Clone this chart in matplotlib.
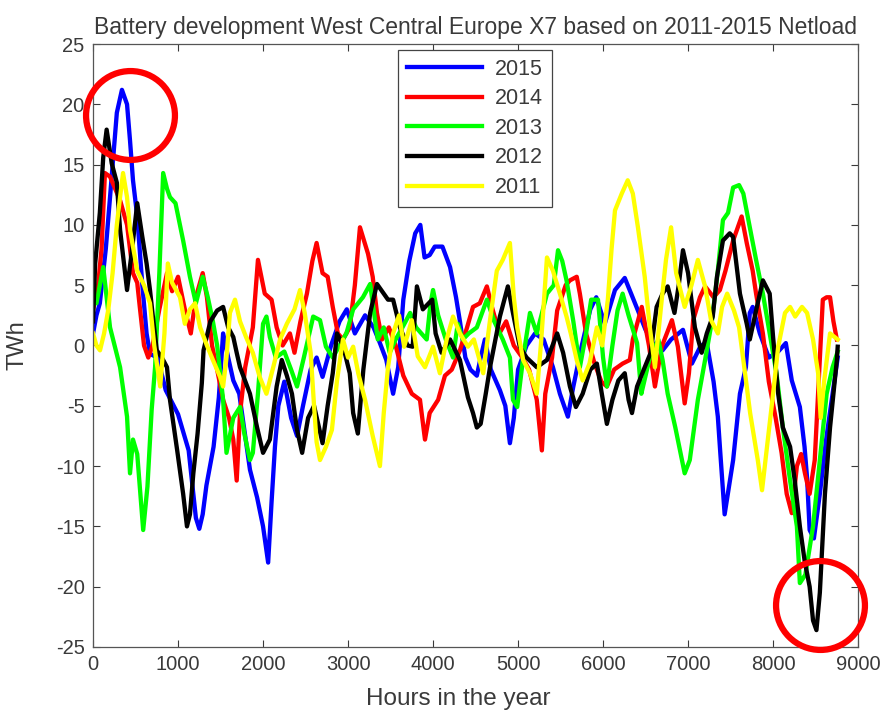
import matplotlib
matplotlib.use('Agg')
import matplotlib.pyplot as plt

plt.rcParams['font.family'] = ['Liberation Sans', 'DejaVu Sans']
plt.rcParams['axes.unicode_minus'] = False

# Battery state per year (hour of year, TWh)
hours_2015 = [0, 40, 80, 150, 200, 280, 340, 400, 435, 470, 520, 580, 630, 670, 760, 855, 1000,
              1125, 1210, 1250, 1290, 1334, 1418, 1480, 1530, 1590, 1650, 1720, 1780, 1846, 1930,
              2000, 2060, 2100, 2140, 2180, 2250, 2330, 2400, 2470, 2560, 2630, 2700, 2800, 2900,
              2985, 3080, 3200, 3300, 3375, 3450, 3530, 3590, 3650, 3720, 3790, 3850, 3900, 3960,
              4020, 4110, 4200, 4270, 4316, 4380, 4440, 4515, 4560, 4610, 4680, 4786, 4850, 4904,
              4950, 5000, 5100, 5200, 5300, 5410, 5492, 5586, 5650, 5750, 5850, 5920, 6020, 6140,
              6255, 6330, 6410, 6500, 6600, 6700, 6800, 6940, 7045, 7150, 7220, 7300, 7350, 7380,
              7430, 7530, 7610, 7680, 7726, 7760, 7844, 7950, 8060, 8150, 8220, 8315, 8370, 8400,
              8430, 8480, 8550, 8620, 8700, 8760]
twh_2015 = [1, 2.5, 3.5, 8, 12.3, 19.3, 21.2, 20, 17, 13.7, 10.7, 5, 1, -0.7, -1, -3.7, -5.7,
            -8.7, -14.3, -15.2, -14, -11.6, -8.4, -4.3, 1, -1, -2.9, -4, -7, -10.3, -12.6,
            -15, -18, -13, -8.4, -5, -3, -6, -7.5, -5, -2, -1, -2.6, 0, 2,
            3, 1, 2.5, 1.5, 0.2, -1.2, -4, -1.8, 3.8, 7, 9.3, 10, 7.3, 7.5,
            8.2, 8.2, 6.5, 4, 2, -1, -2, -2.5, -1, 0.5, -2, -3.7, -5, -8.1,
            -6, -2, 0, 1, 0.5, -1.8, -4, -5.9, -3.4, 0, 3, 4, 1.8, 4.6,
            5.6, 4.3, 2.9, 1.3, 0, -0.4, 0.5, 1.3, -1.5, 0, 0.2, -3, -5.9, -9,
            -14, -9.5, -4, -1.8, 2.7, 3.2, 1, -1, -0.5, 0.2, -2.9, -5.1, -8.4, -11,
            -15.3, -16, -12.3, -8, -4, -1]

hours_2014 = [0, 60, 100, 140, 200, 260, 320, 400, 470, 520, 550, 600, 650, 700, 780, 870, 930,
              1000, 1080, 1150, 1210, 1290, 1340, 1400, 1460, 1530, 1600, 1650, 1690, 1729, 1790,
              1880, 1940, 2020, 2100, 2160, 2230, 2316, 2370, 2440, 2516, 2580, 2630, 2700, 2760,
              2820, 2880, 2940, 3020, 3080, 3140, 3235, 3290, 3340, 3400, 3480, 3560, 3650, 3750,
              3846, 3905, 3960, 4060, 4140, 4220, 4316, 4400, 4470, 4550, 4633, 4700, 4780, 4860,
              4950, 5050, 5130, 5220, 5280, 5320, 5400, 5460, 5560, 5610, 5690, 5727, 5800, 5900,
              5980, 6045, 6130, 6230, 6315, 6350, 6455, 6540, 6610, 6690, 6810, 6880, 6960, 7010,
              7060, 7140, 7200, 7300, 7374, 7440, 7530, 7630, 7690, 7760, 7800, 7880, 7950, 8030,
              8100, 8160, 8220, 8280, 8330, 8375, 8430, 8490, 8550, 8585, 8630, 8670, 8710, 8750]
twh_2014 = [3, 5, 8, 14.3, 14, 13, 12, 10, 6, 5.2, 3.2, 0, -1, 0, 3, 6, 4.5,
            5.7, 3, 1, 4, 6, 4, 0, -2, -4.5, -6, -7.8, -11.2, -5.6, -1.8,
            1.5, 7.1, 4.3, 3.8, 1.5, 0, 1, -0.6, 2, 4.3, 7, 8.5, 6, 5.7,
            3.2, 1, 0.5, 1.5, 5, 9.8, 7.6, 5.7, 2.7, 0.5, 1.5, 0, -2.5, -4,
            -4.5, -7.8, -5.6, -4.5, -2.5, -2, -0.4, 1.5, 3.2, 3.5, 4.9, 3, 1, 2,
            0, -1, -2, -4.5, -8.7, -4, -1, 2.9, 5, 5.4, 5.7, 4.3, 1, -1.5,
            -3, -3.4, -2, -1.5, -1.2, 0.5, 3.2, 0, -3.4, -0.1, 2.1, -0.1, -4.8, -2.3,
            2.1, 4, 4.9, 4, 4.6, 6.2, 8.7, 10.7, 8.5, 6.2, 4.3, 1, -3, -6,
            -8.9, -12.3, -13.9, -10, -9, -10.6, -12.3, -9.5, -1.2, 3.8, 4, 4, 2, 0.5]

hours_2013 = [0, 40, 120, 200, 318, 400, 435, 470, 520, 590, 640, 690, 730, 780, 825, 870, 905,
              970, 1060, 1140, 1210, 1290, 1350, 1410, 1460, 1530, 1570, 1650, 1729, 1780, 1846,
              1880, 1940, 2000, 2040, 2080, 2150, 2250, 2330, 2400, 2480, 2590, 2670, 2740, 2820,
              2900, 2980, 3060, 3175, 3260, 3300, 3350, 3420, 3490, 3560, 3640, 3730, 3800, 3925,
              3970, 4000, 4060, 4150, 4235, 4290, 4350, 4420, 4515, 4633, 4720, 4820, 4904, 4940,
              4990, 5060, 5140, 5220, 5340, 5420, 5470, 5520, 5570, 5650, 5727, 5800, 5860, 5940,
              6000, 6045, 6110, 6170, 6230, 6300, 6400, 6450, 6470, 6550, 6650, 6700, 6760, 6850,
              6960, 7020, 7115, 7200, 7280, 7350, 7410, 7470, 7530, 7600, 7650, 7726, 7800, 7880,
              7960, 8040, 8115, 8200, 8280, 8315, 8380, 8470, 8550, 8630, 8700, 8760]
twh_2013 = [3.5, 3.5, 6.5, 1.5, -1.8, -5.9, -10.6, -7.8, -9, -15.3, -11.7, -5.3, -1.8, 6, 14.3, 13, 12.3,
            11.8, 8.7, 5.7, 3.5, 5.7, 4, 2, 0, -4.5, -8.9, -6, -5.1, -7.3, -9.5,
            -8.9, -4, 1.8, 2.4, 0.7, -1, -0.5, -2, -3.4, -1, 2.4, 2.1, -0.1, -1,
            0, 1, 3, 4, 5.1, 3, 0.5, 1.5, -0.6, 0.5, 1.5, 2.7, 1.5, 0.5,
            3.5, 4.6, 2.5, 0.5, -1, 1.8, 0.5, 1, 1.5, 3.8, 2, 0.5, -1, -4.5,
            -5.1, -1, 2.7, 1, 4.3, 5, 7.9, 7, 5.4, 2, -1.8, 1, 3.8, 3.8,
            -1, -3.4, 0, 2.9, 4.3, 2.5, 0.2, -4, -3.4, -1, 0.5, -1.2, -4, -6.8,
            -10.6, -9.5, -4.5, -1.2, 2, 6.2, 10.4, 11, 13.1, 13.3, 12.6, 9.8, 7.1, 4.3,
            1, -2.3, -6.8, -11.2, -15, -19.7, -19, -15, -9.5, -4, -1.8, -0.5]

hours_2012 = [0, 25, 80, 120, 160, 220, 280, 318, 360, 400, 460, 520, 580, 630, 670, 710, 750,
              810, 870, 905, 990, 1060, 1105, 1140, 1180, 1230, 1280, 1300, 1380, 1460, 1530,
              1590, 1650, 1690, 1729, 1846, 1930, 2000, 2080, 2160, 2220, 2280, 2340, 2400, 2460,
              2530, 2600, 2700, 2760, 2820, 2870, 2940, 3020, 3060, 3115, 3180, 3260, 3340, 3470,
              3530, 3610, 3700, 3760, 3810, 3880, 3990, 4030, 4100, 4200, 4316, 4410, 4470, 4515,
              4560, 4620, 4670, 4786, 4880, 4940, 5020, 5100, 5220, 5340, 5460, 5530, 5610, 5680,
              5760, 5850, 5927, 5985, 6045, 6110, 6180, 6255, 6300, 6340, 6400, 6490, 6560, 6630,
              6700, 6760, 6840, 6890, 6940, 7000, 7080, 7160, 7220, 7290, 7340, 7410, 7490, 7530,
              7610, 7690, 7726, 7800, 7880, 7960, 8000, 8060, 8115, 8200, 8255, 8315, 8370, 8430,
              8470, 8510, 8550, 8610, 8670, 8750, 8760]
twh_2012 = [2, 6.8, 11, 15.6, 17.9, 15.1, 13.5, 9.6, 7, 4.6, 8, 11.8, 9, 6.8, 4.6, 2, -0.4,
            -1, -1.8, -4.5, -8.7, -12.3, -15, -14, -10.6, -7.3, -3.1, -0.4, 2, 2.9, 3.2,
            1.5, 0.7, -0.6, -1.8, -4, -6.8, -8.9, -7.8, -3.4, -1.2, -2.5, -4, -7, -8.9,
            -6, -5, -8.1, -5, -2.3, 1, 0, -2.3, -5.6, -7.3, -2, 2.7, 5.1, 3.8,
            3.8, 1.5, 0, -0.1, 4.9, 3, 3.8, 1, -0.6, 0.5, -1.2, -4.3, -5.6, -6.8,
            -6.5, -4, -1.8, 2.4, 4.9, 2.7, -0.1, -1, -1.8, -1.2, 1, -0.6, -3.4, -5.1,
            -4, -2, -1.5, -4, -6.5, -4.5, -2.9, -2.3, -4.5, -5.6, -3.4, -1.8, -0.6, 3.2,
            4.3, 4.9, 2.7, 5, 7.9, 6, 1.5, -0.6, 1, 2.4, 5.7, 8.7, 9.3, 9,
            4.3, 1.8, 0.5, 2.9, 5.4, 4.3, 0.7, -4, -6.8, -8.4, -11.2, -15, -17.8, -20,
            -22.8, -23.6, -20.5, -12.3, -6.8, -1.2, -0.1]

hours_2011 = [0, 40, 82, 130, 180, 230, 280, 318, 353, 400, 435, 520, 600, 670, 720, 790, 840,
              880, 930, 1023, 1080, 1140, 1200, 1260, 1340, 1410, 1494, 1530, 1570, 1610, 1670,
              1729, 1800, 1880, 1960, 2040, 2120, 2200, 2280, 2370, 2435, 2490, 2560, 2600, 2630,
              2670, 2740, 2810, 2870, 2940, 3000, 3060, 3120, 3200, 3290, 3375, 3420, 3470, 3530,
              3600, 3660, 3750, 3820, 3905, 4000, 4080, 4160, 4235, 4316, 4410, 4480, 4590, 4670,
              4750, 4820, 4904, 4950, 4990, 5060, 5140, 5220, 5270, 5340, 5410, 5492, 5570, 5620,
              5690, 5760, 5840, 5927, 5990, 6056, 6100, 6140, 6220, 6290, 6350, 6410, 6490, 6550,
              6610, 6690, 6740, 6800, 6860, 6960, 7040, 7115, 7200, 7270, 7350, 7400, 7460, 7540,
              7600, 7650, 7730, 7820, 7870, 7920, 8000, 8060, 8140, 8200, 8260, 8340, 8400, 8470,
              8530, 8560, 8600, 8670, 8760]
twh_2011 = [1, 0, -0.4, 1, 3, 6, 10, 12.3, 14.3, 12.3, 9.6, 6.2, 5, 3.5, 0, -3.4, 1,
            6.8, 5.2, 4, 1.8, 3, 3.5, 1.5, 0, -1.2, -2.6, -3.4, -1, 2.7, 3.8,
            2, 0.7, -0.6, -2.6, -4, -1.8, 0.5, 1.8, 3, 4.6, 2.7, -0.6, -5, -8,
            -9.5, -8.4, -7, -2.9, 0.5, -1, -0.1, -2.3, -4.5, -7.5, -10, -5.6, -1.8, 1,
            2.5, -0.1, 2.1, -0.9, -1.8, -0.1, -2.3, 0.5, 2.4, 1, -0.1, 0.5, -2.3, 2.1,
            6.2, 7.1, 8.5, 4, 1.5, -1.2, -2.3, -4, 0.2, 7.3, 6.2, 4.3, 2.4, 1,
            -1.2, -2.9, -1.5, 1.5, 0, 3.8, 8, 11.2, 12.6, 13.7, 12.6, 9.8, 5.7, 1.5,
            -1.8, 3.8, 7.1, 9.8, 6, 3.2, 5, 7.1, 4.9, 2.1, 1, 3.2, 4.3, 2.9,
            1.5, -1.2, -5.6, -9.5, -12, -8.9, -4, -0.1, 2.7, 3.2, 2.4, 3.2, 2.7, 0.5,
            -2.3, -6, -3, 1, 0.5]

series = [
    ('2015', hours_2015, twh_2015, '#0000ff'),
    ('2014', hours_2014, twh_2014, '#ff0000'),
    ('2013', hours_2013, twh_2013, '#00ff00'),
    ('2012', hours_2012, twh_2012, '#000000'),
    ('2011', hours_2011, twh_2011, '#ffff00'),
]

# spots highlighted with a red ring: (hour, TWh)
highlight_hours = [435, 8550]
highlight_twh = [19.1, -21.5]

x_ticks = list(range(0, 9001, 1000))
y_ticks = list(range(-25, 26, 5))
text_color = '#3a3a3a'

fig = plt.figure(figsize=(8.81, 7.12), dpi=100)
ax = fig.add_axes([0.1056, 0.0913, 0.8684, 0.8469])

for label, h, v, c in series:
    ax.plot(h, v, color=c, linewidth=3.1, label=label, solid_joinstyle='round')

ax.plot(highlight_hours, highlight_twh, 'o', markersize=64, markerfacecolor='none',
        markeredgecolor='#ff0000', markeredgewidth=4.5, clip_on=False, zorder=10)

ax.set_xlim(0, 9000)
ax.set_ylim(-25, 25)
ax.set_xticks(x_ticks)
ax.set_yticks(y_ticks)
ax.tick_params(direction='in', top=True, right=True, length=5, width=0.8,
               labelsize=14.5, colors=text_color, pad=6)
for s in ax.spines.values():
    s.set_color('#555555')
    s.set_linewidth(0.9)

ax.set_title('Battery development West Central Europe X7 based on 2011-2015 Netload',
             fontsize=16.5, color=text_color, pad=7)
ax.set_xlabel('Hours in the year', fontsize=17.5, color=text_color)
ax.xaxis.set_label_coords(0.478, -0.068)
ax.set_ylabel('TWh', fontsize=17, color=text_color)
ax.yaxis.set_label_coords(-0.085, 0.5)

leg = ax.legend(loc='upper left', bbox_to_anchor=(0.399, 0.99), fontsize=15.5,
                handlelength=3.5, handletextpad=0.6, labelspacing=0.4,
                borderpad=0.4, borderaxespad=0, fancybox=False, framealpha=1,
                edgecolor='#444444')
leg.get_frame().set_linewidth(0.9)
for t in leg.get_texts():
    t.set_color(text_color)

fig.savefig('out.png', dpi=100)
